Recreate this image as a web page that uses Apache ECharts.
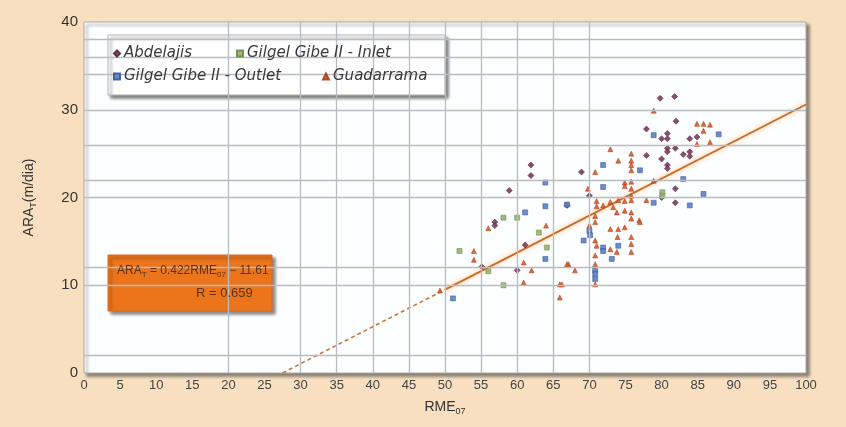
<!DOCTYPE html>
<html>
<head>
<meta charset="utf-8">
<script src="https://cdn.jsdelivr.net/npm/echarts@6/dist/echarts.min.js"></script>
<style>
html,body{margin:0;padding:0;background:#f8dfc0;}
#c{width:846px;height:427px;}
</style>
</head>
<body>
<div id="c"></div>
<script>
// ---- data ----
var xTicks = [0,5,10,15,20,25,30,35,40,45,50,55,60,65,70,75,80,85,90,95,100];
var yTicks = [0,10,20,30,40];
var gridX = [20,30,35,40,45,50,55,60,65,70];
var gridY = [2,10,12,20,22,26,30,34,36,38];

var abdelajis = [
  [61.9,23.7],[61.9,22.5],[58.9,20.8],[66.9,19.1],[56.9,17.2],[56.9,16.8],[61.1,14.6],
  [55.1,12.1],[60.0,11.7],[68.9,22.9],[70.0,20.2],[77.9,24.8],[79.8,31.3],[81.8,31.5],
  [82.0,28.7],[80.8,27.3],[80.8,26.7],[80.0,26.7],[84.9,26.9],[80.8,25.6],[81.9,25.6],
  [80.8,25.2],[80.0,24.4],[80.8,23.7],[80.8,23.3],[81.9,21.0],[80.0,20.0],[81.9,19.4],
  [77.9,27.8],[83.9,25.2],[83.9,24.7],[83.0,24.9],[83.9,26.7]
];
var inlet = [
  [60.0,17.7],[58.1,17.7],[63.0,16.0],[64.1,14.3],[52.0,13.9],[56.0,11.6],[58.1,10.0],
  [80.1,20.6],[80.1,20.2]
];
var outlet = [
  [63.9,21.7],[63.9,19.0],[61.1,18.3],[63.9,13.0],[51.1,8.5],[66.9,19.2],[71.9,23.7],
  [77.0,23.1],[71.9,21.2],[70.0,16.2],[70.1,15.7],[69.2,15.1],[71.9,14.3],[71.9,13.9],
  [74.0,14.5],[73.1,13.0],[70.8,11.7],[70.8,11.3],[70.8,10.7],[78.9,27.1],[87.9,27.2],
  [83.0,22.1],[85.8,20.4],[78.9,19.4],[83.9,19.1]
];
var guadarrama = [
  [54.0,13.9],[54.0,12.9],[60.9,12.6],[60.9,10.3],[65.9,10.1],[65.9,8.6],[49.3,9.4],
  [67.1,12.4],[56.0,16.5],[64.0,16.8],[62.0,11.7],[72.9,25.5],[75.8,25.0],[75.8,24.2],
  [75.8,23.7],[74.0,24.2],[70.8,22.9],[75.8,23.1],[74.9,21.7],[74.9,21.3],[75.8,21.8],
  [75.8,21.0],[75.8,20.2],[75.8,19.7],[69.8,21.0],[71.0,19.6],[71.0,19.0],[71.9,19.1],
  [72.9,19.5],[73.3,18.9],[74.0,19.7],[74.9,19.6],[73.8,18.3],[74.9,18.5],[75.8,18.3],
  [75.8,17.6],[76.9,17.4],[70.8,17.9],[70.8,17.2],[70.0,16.8],[74.9,16.6],[72.9,16.4],
  [74.0,16.4],[75.8,15.5],[73.9,15.5],[70.8,15.1],[71.0,14.5],[72.9,14.1],[73.8,13.8],
  [75.8,14.7],[75.8,13.8],[70.8,13.4],[70.8,12.4],[70.8,10.1],[66.9,12.4],[68.0,11.7],
  [66.2,10.1],[78.9,29.9],[78.9,21.9],[77.9,19.7],[77.0,17.2],[84.9,28.4],[85.8,28.4],
  [86.7,28.3],[85.8,27.6],[84.9,26.1],[86.7,26.3]
];
var trendDashed = [[27.5,0],[50,9.5]];
var trendSolid = [[50,9.5],[100,30.6]];
var eqLine1 = '{n|ARA}{s|T}{n| = 0.422RME}{s|07}{n| − 11.61}';
var eqLine2 = 'R = 0.659';

// ---- chart ----
var chart = echarts.init(document.getElementById('c'), null, {renderer:'canvas'});
var FONT = '"Liberation Sans", Arial, sans-serif';
var NARROW = '"Liberation Sans Narrow", "Liberation Sans", Arial, sans-serif';
var LEGFONT = '"DejaVu Sans", "Liberation Sans", sans-serif';

function sc(name, data, symbol, color, border, size){
  return {
    name: name, type: 'scatter', data: data, symbol: symbol, symbolSize: size,
    z: 3,
    itemStyle: {color: color, borderColor: border, borderWidth: 0.6, opacity: 0.9}
  };
}

var legendItem = function(name, left, top){
  return {
    data: [name], left: left, top: top, orient: 'horizontal', z: 6,
    itemWidth: 6, itemHeight: 6, itemGap: 4, padding: 0,
    textStyle: {fontFamily: LEGFONT, fontStyle: 'italic', fontSize: 15, color: '#3a3a3a',
      padding: [0,0,0,-1]},
    selectedMode: false
  };
};

var option = {
  animation: false,
  backgroundColor: '#f8dfc0',
  grid: {
    left: 84, right: 40, top: 22, bottom: 54,
    show: true, backgroundColor: '#fdfeff', borderColor: '#a9a9a9', borderWidth: 1,
    shadowColor: 'rgba(60,60,60,0.6)', shadowBlur: 3, shadowOffsetX: 3, shadowOffsetY: 3
  },
  xAxis: {
    type: 'value', min: 0, max: 100, interval: 5,
    axisLine: {show: false}, axisTick: {show: false}, splitLine: {show: false},
    axisLabel: {fontFamily: NARROW, fontSize: 13, color: '#444', margin: 6,
      customValues: xTicks},
    name: 'RME{s|07}', nameLocation: 'middle', nameGap: 26,
    nameTextStyle: {fontFamily: FONT, fontSize: 14, color: '#333',
      rich: {s: {fontSize: 9, fontFamily: FONT, color: '#333', padding: [8,0,0,0]}}}
  },
  yAxis: {
    type: 'value', min: 0, max: 40, interval: 10,
    axisLine: {show: false}, axisTick: {show: false}, splitLine: {show: false},
    axisLabel: {fontFamily: FONT, fontSize: 15, color: '#333', margin: 6,
      customValues: yTicks},
    name: 'ARA{s|T}(m/dia)', nameLocation: 'middle', nameGap: 46,
    nameTextStyle: {fontFamily: FONT, fontSize: 14, color: '#333',
      rich: {s: {fontSize: 9, fontFamily: FONT, color: '#333', padding: [8,0,0,0]}}}
  },
  legend: [
    legendItem('Abdelajis', 113, 46),
    legendItem('Gilgel Gibe II - Inlet', 236, 46),
    legendItem('Gilgel Gibe II - Outlet', 113, 69),
    legendItem('Guadarrama', 322, 69)
  ],
  graphic: [
    {type: 'rect', z: 5, shape: {x: 108, y: 35, width: 337, height: 60},
      style: {fill: '#ffffff', stroke: '#b5b5b5', lineWidth: 1,
        shadowColor: 'rgba(0,0,0,0.5)', shadowBlur: 3, shadowOffsetX: 3, shadowOffsetY: 3}},
    {type: 'rect', z: 5, shape: {x: 108, y: 255, width: 164, height: 56},
      style: {fill: '#ec751b', stroke: '#d9681a', lineWidth: 1,
        shadowColor: 'rgba(0,0,0,0.45)', shadowBlur: 3, shadowOffsetX: 3, shadowOffsetY: 3}},
    {type: 'text', z: 6, left: 117, top: 265,
      style: {text: eqLine1, fill: '#5a3412',
        rich: {n: {fontFamily: FONT, fontSize: 12, fill: '#5a3412', height: 15},
               s: {fontFamily: FONT, fontSize: 8, fill: '#5a3412', padding: [7,0,0,0]}}}},
    {type: 'text', z: 6, left: 196, top: 287,
      style: {text: eqLine2, fill: '#5a3412', font: '13px ' + FONT}}
  ],
  series: [
    {
      name: 'grid', type: 'line', data: [], z: 1, silent: true,
      markLine: {
        silent: true, symbol: 'none', animation: false, label: {show: false},
        lineStyle: {color: '#b7bcc2', width: 1.3, type: 'solid'},
        data: gridX.map(function(v){return {xAxis: v};})
          .concat(gridY.map(function(v){return {yAxis: v};}))
      }
    },
    {
      name: 'trend1', type: 'line', data: trendDashed, symbol: 'none', z: 2, silent: true,
      lineStyle: {color: '#c9773a', width: 1.6, type: [4,3]}
    },
    {
      name: 'trend2', type: 'line', data: trendSolid, symbol: 'none', z: 2, silent: true,
      lineStyle: {color: '#c56a2a', width: 1.8,
        shadowColor: 'rgba(255,175,90,0.9)', shadowBlur: 5}
    },
    sc('Abdelajis', abdelajis, 'diamond', '#7c3b5c', '#4f2538', 6),
    sc('Gilgel Gibe II - Inlet', inlet, 'rect', '#93b26e', '#6c8a4c', 5),
    sc('Gilgel Gibe II - Outlet', outlet, 'rect', '#5b7fc4', '#3d5a94', 5),
    sc('Guadarrama', guadarrama, 'triangle', '#d65a2a', '#a8401a', 5)
  ]
};
chart.setOption(option);
</script>
</body>
</html>
